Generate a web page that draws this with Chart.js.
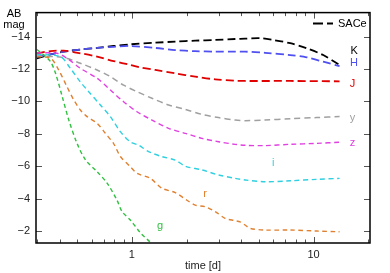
<!DOCTYPE html>
<html>
<head>
<meta charset="utf-8">
<script src="https://cdn.jsdelivr.net/npm/chart.js@4.4.0/dist/chart.umd.min.js"></script>
<style>
  html, body { margin: 0; padding: 0; background: #fff; }
  canvas { display: block; }
</style>
</head>
<body>
<canvas id="lightcurves" width="390" height="273"></canvas>
<script>
// light curves (time in days, AB mag)
const kTime = [0.3, 0.357, 0.422, 0.521, 0.644, 0.794, 0.981, 1.346, 1.733, 2.233, 2.876, 3.7, 4.2, 5.08, 6.0, 7.44, 9.16, 11.3, 13.9];
const kMag = [-12.66, -12.9, -13.07, -13.2, -13.3, -13.42, -13.52, -13.62, -13.69, -13.75, -13.79, -13.85, -13.87, -13.9, -13.79, -13.59, -13.28, -12.86, -12.25];

const hTime = [0.3, 0.357, 0.422, 0.521, 0.644, 0.794, 0.981, 1.346, 1.733, 2.233, 2.876, 3.7, 4.2, 5.41, 7.44, 9.16, 11.3, 13.9];
const hMag = [-12.76, -12.9, -13.07, -13.2, -13.3, -13.37, -13.42, -13.3, -13.17, -13.1, -13.07, -13.07, -13.07, -13.0, -12.86, -12.72, -12.45, -12.18];

const jTime = [0.3, 0.357, 0.422, 0.521, 0.644, 0.794, 0.981, 1.113, 1.346, 1.733, 2.233, 2.876, 3.7, 4.2, 7.44, 13.9];
const jMag = [-12.97, -13.1, -13.13, -12.97, -12.76, -12.49, -12.25, -12.1, -11.94, -11.73, -11.53, -11.36, -11.28, -11.26, -11.26, -11.24];

const yTime = [0.3, 0.422, 0.521, 0.644, 0.762, 0.901, 1.068, 1.291, 1.593, 1.968, 2.43, 3.0, 3.7, 4.2, 5.41, 7.44, 10.4, 13.9];
const yMag = [-12.8, -12.7, -12.35, -11.94, -11.53, -11.0, -10.6, -10.19, -9.78, -9.51, -9.2, -9.0, -8.85, -8.81, -8.85, -8.93, -9.0, -9.06];

const zTime = [0.3, 0.388, 0.44, 0.521, 0.644, 0.762, 0.901, 1.068, 1.291, 1.593, 1.968, 2.43, 3.0, 3.7, 4.2, 5.41, 7.44, 10.4, 13.9];
const zMag = [-12.99, -12.97, -12.66, -12.04, -11.43, -10.7, -9.98, -9.36, -8.85, -8.34, -8.03, -7.72, -7.51, -7.35, -7.29, -7.27, -7.35, -7.41, -7.48];

const iTime = [0.3, 0.405, 0.459, 0.521, 0.579, 0.671, 0.762, 0.865, 0.981, 1.09, 1.237, 1.466, 1.733, 1.968, 2.43, 3.0, 3.7, 4.2, 5.41, 7.44, 10.4, 13.9];
const iMag = [-12.9, -12.76, -12.04, -11.2, -10.6, -9.78, -9.06, -8.13, -7.5, -7.3, -6.9, -6.59, -6.38, -6.0, -5.77, -5.46, -5.25, -5.15, -5.04, -5.1, -5.19, -5.25];

const rTime = [0.3, 0.357, 0.396, 0.44, 0.479, 0.521, 0.567, 0.644, 0.715, 0.794, 0.865, 0.981, 1.068, 1.264, 1.466, 1.733, 2.01, 2.233, 2.53, 2.876, 3.26, 3.7, 3.94, 4.2, 4.48, 5.41, 7.44, 10.4, 13.9];
const rMag = [-12.76, -12.66, -11.94, -10.9, -10.1, -9.47, -9.06, -8.65, -8.03, -7.4, -6.6, -5.97, -5.56, -5.25, -4.64, -4.37, -3.9, -3.6, -3.5, -3.2, -2.78, -2.64, -2.57, -2.37, -2.16, -2.06, -2.06, -2.0, -1.95];

const gTime = [0.3, 0.321, 0.357, 0.38, 0.414, 0.45, 0.5, 0.555, 0.644, 0.731, 0.829, 0.884, 0.981, 1.113, 1.264, 1.45];
const gMag = [-13.2, -12.95, -12.45, -11.75, -10.3, -8.85, -7.4, -6.4, -5.66, -4.96, -3.9, -3.2, -2.68, -1.9, -1.3, -0.6];

const bandNames = ["K", "H", "J", "y", "z", "i", "r", "g"];
const bandColors = ["#000000", "#5050f0", "#e00000", "#a0a0a0", "#e040e0", "#30d0e0", "#e08030", "#30c040"];
const labelTime = [16.7, 16.7, 16.4, 16.4, 16.4, 5.99, 2.53, 1.43];
const labelMag = [-13.11, -12.37, -11.05, -8.95, -7.45, -6.2, -4.28, -2.31];

const yTicks = [-14, -12, -10, -8, -6, -4, -2];
const xMajorTicks = [1, 10];
const xMinorTicks = [0.3, 0.4, 0.5, 0.6, 0.7, 0.8, 0.9, 2, 3, 4, 5, 6, 7, 8, 9, 20];

const FONT = "'Liberation Sans', Arial, Helvetica, sans-serif";

function pairs(times, mags) {
  return times.map((t, i) => ({ x: t, y: mags[i] }));
}

function band(idx, times, mags, dash, width) {
  return {
    label: bandNames[idx],
    data: pairs(times, mags),
    borderColor: bandColors[idx],
    borderWidth: width,
    borderDash: dash,
    pointRadius: 0,
    showLine: true,
    fill: false,
    tension: 0.3,
  };
}

const datasets = [
  band(7, gTime, gMag, [4, 3], 1.4),
  band(6, rTime, rMag, [4.5, 3.5], 1.4),
  band(5, iTime, iMag, [5, 3.5], 1.4),
  band(4, zTime, zMag, [5, 3.5], 1.4),
  band(3, yTime, yMag, [6, 4], 1.5),
  band(2, jTime, jMag, [8, 4], 1.8),
  band(1, hTime, hMag, [8, 4], 1.8),
  band(0, kTime, kMag, [8, 4], 1.8),
];

// frame, inward ticks, curve labels, legend and the y title
const decorations = {
  id: "decorations",
  afterDatasetsDraw(chart) {
    const { ctx, chartArea: a } = chart;
    const xs = chart.scales.x;
    const ys = chart.scales.y;
    ctx.save();

    ctx.strokeStyle = "#555";
    ctx.lineWidth = 1;
    ctx.beginPath();
    for (const v of yTicks) {
      const py = Math.round(ys.getPixelForValue(v)) + 0.5;
      ctx.moveTo(a.left, py);
      ctx.lineTo(a.left + 6, py);
      ctx.moveTo(a.right, py);
      ctx.lineTo(a.right - 6, py);
    }
    for (const v of xMajorTicks) {
      const px = Math.round(xs.getPixelForValue(v)) + 0.5;
      ctx.moveTo(px, a.bottom);
      ctx.lineTo(px, a.bottom - 6);
      ctx.moveTo(px, a.top);
      ctx.lineTo(px, a.top + 6);
    }
    for (const v of xMinorTicks) {
      const px = Math.round(xs.getPixelForValue(v)) + 0.5;
      ctx.moveTo(px, a.bottom);
      ctx.lineTo(px, a.bottom - 3.5);
      ctx.moveTo(px, a.top);
      ctx.lineTo(px, a.top + 3.5);
    }
    ctx.stroke();

    ctx.strokeStyle = "#000";
    ctx.lineWidth = 1.5;
    ctx.strokeRect(a.left, a.top, a.right - a.left, a.bottom - a.top);

    ctx.font = "11px " + FONT;
    ctx.textAlign = "center";
    ctx.textBaseline = "middle";
    bandNames.forEach((name, i) => {
      ctx.fillStyle = bandColors[i];
      ctx.fillText(name, xs.getPixelForValue(labelTime[i]), ys.getPixelForValue(labelMag[i]));
    });

    // legend
    ctx.strokeStyle = "#000";
    ctx.lineWidth = 1.8;
    ctx.setLineDash([10, 4]);
    ctx.beginPath();
    ctx.moveTo(313, 23.5);
    ctx.lineTo(333, 23.5);
    ctx.stroke();
    ctx.setLineDash([]);
    ctx.fillStyle = "#000";
    ctx.textAlign = "left";
    ctx.fillText("SACe", 338, 23.5);

    // y axis title
    ctx.textAlign = "center";
    ctx.fillText("AB", 14, 13.5);
    ctx.fillText("mag", 14, 24.5);
    ctx.restore();
  },
};

new Chart(document.getElementById("lightcurves"), {
  type: "scatter",
  data: { datasets: datasets },
  options: {
    responsive: false,
    animation: false,
    devicePixelRatio: 1,
    layout: { padding: { top: 12, right: 20, left: 0, bottom: 0 } },
    plugins: {
      legend: { display: false },
      tooltip: { enabled: false },
    },
    scales: {
      x: {
        type: "logarithmic",
        min: 0.297,
        max: 20.44,
        grid: { display: false, drawTicks: false },
        border: { display: false },
        afterBuildTicks: (scale) => {
          scale.ticks = xMajorTicks.map((v) => ({ value: v }));
        },
        afterFit: (scale) => {
          scale.height = 30;
        },
        ticks: {
          padding: 5,
          color: "#222",
          font: { family: FONT, size: 11 },
          callback: (v) => String(v),
        },
        title: {
          display: true,
          text: "time [d]",
          color: "#222",
          padding: { top: 0, bottom: 0 },
          font: { family: FONT, size: 11 },
        },
      },
      y: {
        reverse: true,
        min: -15.48,
        max: -1.26,
        grid: { display: false, drawTicks: false },
        border: { display: false },
        afterBuildTicks: (scale) => {
          scale.ticks = yTicks.map((v) => ({ value: v }));
        },
        afterFit: (scale) => {
          scale.width = 36;
        },
        ticks: {
          padding: 6,
          color: "#222",
          font: { family: FONT, size: 11 },
          callback: (v) => String(v).replace("-", "\u2212"),
        },
      },
    },
  },
  plugins: [decorations],
});
</script>
</body>
</html>
